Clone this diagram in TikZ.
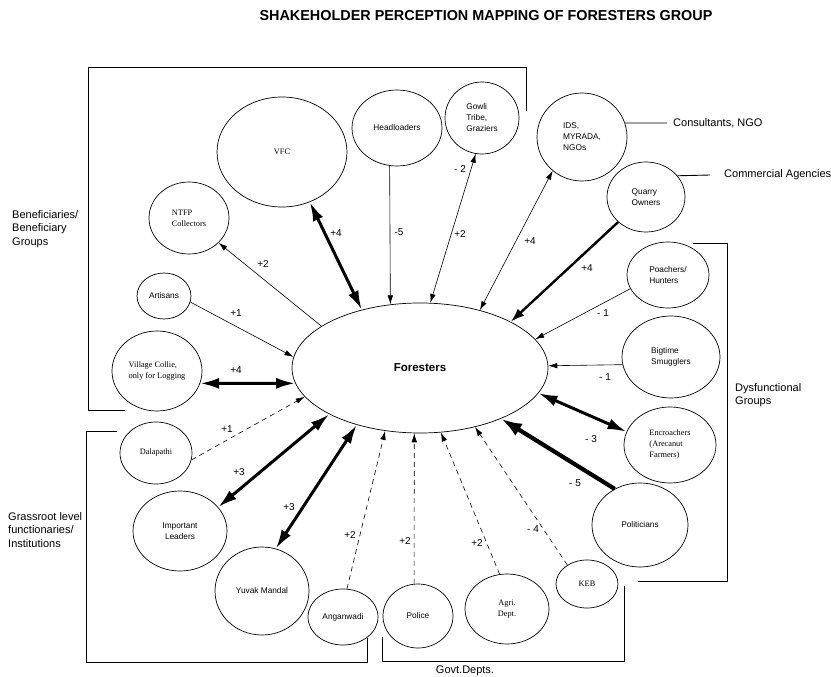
\documentclass[tikz,border=0pt]{standalone}
\usepackage{fontspec}
\setmainfont{Liberation Sans}
\newfontfamily\seriffont{Liberation Serif}
\usetikzlibrary{shapes.geometric, arrows.meta}
\begin{document}
\begin{tikzpicture}[x=1pt,y=-1pt,
  ell/.style={draw, ellipse, inner sep=0pt, line width=0.7pt, align=center, font=\fontsize{8.3}{11}\selectfont},
  sell/.style={ell, font=\seriffont\fontsize{8.3}{11}\selectfont},
  lbl/.style={font=\fontsize{10}{12}\selectfont, inner sep=0pt},
  grp/.style={font=\fontsize{11}{13.2}\selectfont, align=left, inner sep=0pt, anchor=west},
  brk/.style={line width=0.9pt},
  thinarr/.style={line width=0.6pt, -{Latex[length=9pt,width=5.5pt]}},
  thinboth/.style={line width=0.6pt, {Latex[length=9pt,width=5.5pt]}-{Latex[length=9pt,width=5.5pt]}},
  thickboth/.style={line width=3pt, {Latex[length=19pt,width=11pt]}-{Latex[length=19pt,width=11pt]}},
  quarryarr/.style={line width=2.4pt, -{Latex[length=14pt,width=9.5pt]}},
  polarr/.style={line width=4.2pt, -{Latex[length=21pt,width=14pt]}},
  dasharr/.style={line width=0.6pt, dash pattern=on 5pt off 4pt, -{Latex[length=9pt,width=5.5pt]}}
]
\useasboundingbox (0,0) rectangle (831,677);

% title
\node[font=\bfseries\fontsize{14.4}{16}\selectfont, inner sep=0pt] (title) at (486,16) {SHAKEHOLDER PERCEPTION MAPPING OF FORESTERS GROUP};

% central node
\node[ell, minimum width=256pt, minimum height=130pt, font=\bfseries\fontsize{11.5}{13}\selectfont] (fore) at (420,368) {Foresters};

% stakeholders
\node[sell, minimum width=130pt, minimum height=110pt] (vfc) at (282,152) {VFC};
\node[ell, minimum width=90pt, minimum height=76pt] (head) at (397,128) {Headloaders};
\node[ell, minimum width=74pt, minimum height=72pt, align=left] (gowli) at (482,118) {Gowli\\Tribe,\\Graziers};
\node[ell, minimum width=90pt, minimum height=88pt, align=left] (ids) at (582,137) {IDS,\\MYRADA,\\NGOs};
\node[ell, minimum width=78pt, minimum height=70pt, align=left] (quarry) at (646,197) {Quarry\\Owners};
\node[ell, minimum width=82pt, minimum height=66pt, align=left] (poach) at (668,275) {Poachers/\\Hunters};
\node[ell, minimum width=98pt, minimum height=82pt, align=left] (smug) at (671,357) {Bigtime\\Smugglers};
\node[sell, minimum width=92pt, minimum height=76pt, align=left] (encr) at (670,445) {Encroachers\\(Arecanut\\Farmers)};
\node[ell, minimum width=96pt, minimum height=84pt] (pol) at (640,525) {Politicians};
\node[sell, minimum width=62pt, minimum height=48pt] (keb) at (587,584) {KEB};
\node[sell, minimum width=84pt, minimum height=70pt] (agri) at (507,609) {Agri.\\Dept.};
\node[ell, minimum width=70pt, minimum height=64pt] (police) at (418,616) {Police};
\node[ell, minimum width=70pt, minimum height=56pt] (angan) at (343,617) {Anganwadi};
\node[ell, minimum width=94pt, minimum height=88pt] (yuvak) at (262,591) {Yuvak Mandal};
\node[ell, minimum width=94pt, minimum height=80pt] (leaders) at (180,531) {Important\\Leaders};
\node[sell, minimum width=72pt, minimum height=62pt] (dala) at (156,453) {Dalapathi};
\node[sell, minimum width=90pt, minimum height=80pt, align=left] (village) at (157,371) {Village Collie,\\only for Logging};
\node[ell, minimum width=54pt, minimum height=46pt] (artis) at (164,296) {Artisans};
\node[sell, minimum width=80pt, minimum height=72pt, align=left] (ntfp) at (189,218) {NTFP\\Collectors};

% connectors
\draw[thinarr] (fore.157) -- (ntfp.-40);
\draw[thickboth] (fore.135) -- (vfc.-61);
\draw[thinarr] (head.259) -- (fore.115);
\draw[thinboth] (gowli.260) -- (fore.81);
\draw[thinboth] (ids.229) -- (fore.44);
\draw[quarryarr] (quarry.222) -- (fore.27);
\draw[thinarr] (poach.200) -- (fore.14);
\draw[thinarr] (smug.189) -- (fore.1);
\draw[thickboth] (fore.-12) -- (encr.163);
\draw[polarr] (pol.125) -- (fore.-32);
\draw[dasharr] (keb.136) -- (fore.-47);
\draw[dasharr] (agri.102) -- (fore.-72);
\draw[dasharr] (police.97) -- (fore.-95);
\draw[dasharr] (angan.82) -- (fore.-119);
\draw[thickboth] (yuvak.72) -- (fore.-138);
\draw[thickboth] (leaders.32) -- (fore.-153);
\draw[dasharr] (dala.-11) -- (fore.194);
\draw[thickboth] (village.-16) -- (fore.187);
\draw[thinarr] (artis.-13) -- (fore.175);

% connector labels
\node[lbl] (l1) at (263,264) {+2};
\node[lbl] (l2) at (336,233) {+4};
\node[lbl] (l3) at (399,232) {-5};
\node[lbl] (l4) at (460,169) {- 2};
\node[lbl] (l5) at (460,234) {+2};
\node[lbl] (l6) at (530,241) {+4};
\node[lbl] (l7) at (587,268) {+4};
\node[lbl] (l8) at (603,313) {- 1};
\node[lbl] (l9) at (605,377) {- 1};
\node[lbl] (l10) at (591,439) {- 3};
\node[lbl] (l11) at (575,483) {- 5};
\node[lbl] (l12) at (533,529) {- 4};
\node[lbl] (l13) at (477,543) {+2};
\node[lbl] (l14) at (405,541) {+2};
\node[lbl] (l15) at (350,535) {+2};
\node[lbl] (l16) at (289,507) {+3};
\node[lbl] (l17) at (239,472) {+3};
\node[lbl] (l18) at (227,429) {+1};
\node[lbl] (l19) at (236,370) {+4};
\node[lbl] (l20) at (236,313) {+1};

% group labels
\node[grp] (gben) at (12,229) {Beneficiaries/\\Beneficiary\\Groups};
\node[grp] (ggrass) at (8,530) {Grassroot level\\functionaries/\\Institutions};
\node[grp] (gdys) at (735,395) {Dysfunctional\\Groups};
\node[grp, anchor=center] (ggov) at (465,671) {Govt.Depts.};
\node[grp] (gcons) at (673,123) {Consultants, NGO};
\node[grp] (gcomm) at (724,175) {Commercial Agencies};
\coordinate (consend) at (667,123);
\coordinate (commend) at (710,175);

\draw[brk] (ids.18) -- (consend);
\draw[brk] (quarry.34) -- (commend);

% brackets
\draw[brk] (125,410) -- (88,410) -- (88,67) -- (526,67) -- (526,111);
\draw[brk] (117,431) -- (86,431) -- (86,662) -- (367,662) -- (367,638);
\draw[brk] (382,637) -- (382,661) -- (624,661) -- (624,586);
\draw[brk] (693,243) -- (727,243) -- (727,581) -- (638,581);
\end{tikzpicture}
\end{document}
